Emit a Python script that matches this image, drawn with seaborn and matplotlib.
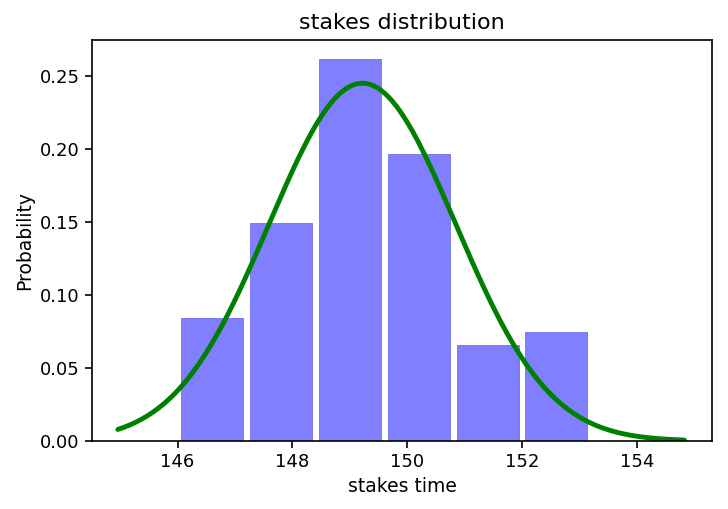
import numpy as np
import pandas as pd
import matplotlib
matplotlib.use("Agg")
import matplotlib.pyplot as plt
import seaborn as sns

# Histogram data: bin edges and counts per bin
bin_edges = [146.0, 147.2, 148.4, 149.6, 150.8, 152.0, 153.2]
bin_counts = [9, 16, 28, 21, 7, 8]
bin_centers = [146.6, 147.8, 149.0, 150.2, 151.4, 152.6]

# Fitted normal curve parameters
curve_mu = 149.22
curve_sigma = 1.626
curve_start = 144.96
curve_end = 154.83

x_ticks = [146, 148, 150, 152, 154]
y_ticks = [0.00, 0.05, 0.10, 0.15, 0.20, 0.25]

sns.set_style("ticks")
plt.rcParams["font.family"] = ["DejaVu Sans"]

fig = plt.figure(figsize=(7.28, 5.09), dpi=100, facecolor="white")
ax = fig.add_axes([0.1264, 0.1336, 0.978 - 0.1264, 0.9214 - 0.1336])

df = pd.DataFrame({"stakes": bin_centers, "n": bin_counts})
sns.histplot(data=df, x="stakes", weights="n", bins=bin_edges, stat="density",
             shrink=0.9, color="blue", alpha=0.5, edgecolor="#7070f0",
             linewidth=0.6, ax=ax)

xs = np.linspace(curve_start, curve_end, 300)
ys = np.exp(-0.5 * ((xs - curve_mu) / curve_sigma) ** 2) / (curve_sigma * np.sqrt(2 * np.pi))
sns.lineplot(x=xs, y=ys, color="green", linewidth=3.5, ax=ax)

ax.set_xlim(144.51, 155.31)
ax.set_ylim(0, 0.275)
ax.set_xticks(x_ticks)
ax.set_yticks(y_ticks)
ax.set_yticklabels([f"{v:.2f}" for v in y_ticks])
ax.tick_params(axis="both", labelsize=13, direction="out", length=5, width=1.2,
               color="black", labelcolor="black", pad=4)
for s in ax.spines.values():
    s.set_color("black")
    s.set_linewidth(1.2)
    s.set_visible(True)

ax.set_xlabel("stakes time", fontsize=13.5, color="black", labelpad=4)
ax.set_ylabel("Probability", fontsize=13.5, color="black", labelpad=4)
ax.set_title("stakes distribution", fontsize=16, color="black", pad=8)

fig.savefig("out.png", dpi=100, facecolor="white")
